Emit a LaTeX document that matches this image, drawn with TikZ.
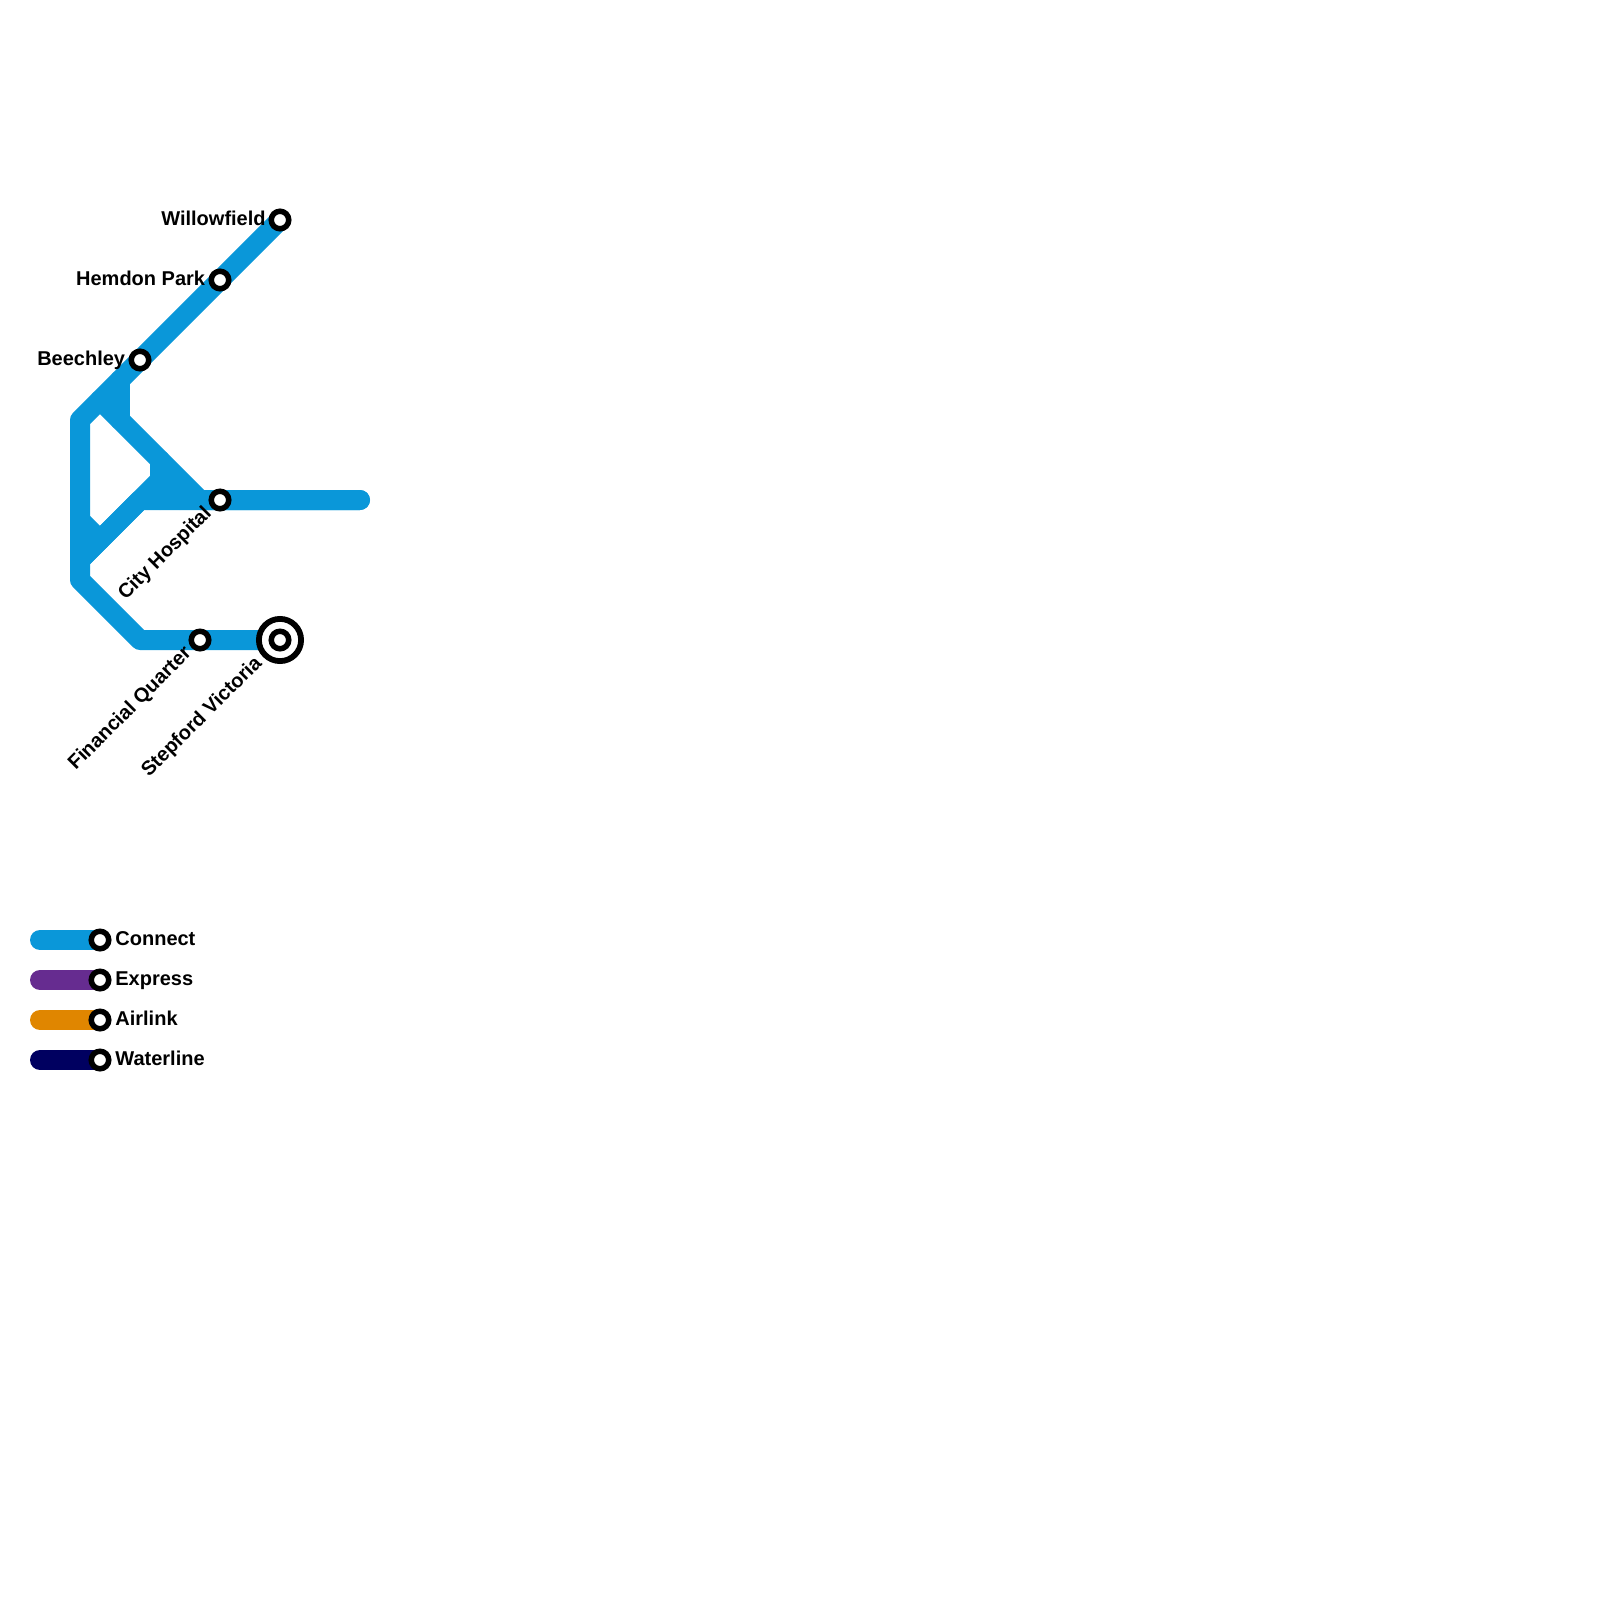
\documentclass[tikz,border=0pt]{standalone}
\usepackage{fontspec}
\setmainfont{Liberation Sans}
\definecolor{connect}{HTML}{0A97D9}
\definecolor{express}{HTML}{662C90}
\definecolor{airlink}{HTML}{E08600}
\definecolor{waterline}{HTML}{000060}
\tikzset{
  route/.style={line width=10pt,line cap=round,line join=round},
  stn/.style={circle,draw=black,fill=white,line width=2.75pt,minimum size=8.75pt,inner sep=0pt},
  bigstn/.style={circle,draw=black,fill=white,line width=2.9pt,minimum size=21.1pt,inner sep=0pt},
  lab/.style={font=\fontsize{10}{12}\selectfont\bfseries,inner sep=0pt,text=black},
  ll/.style={lab,anchor=base east},
  dl/.style={lab,anchor=base east,rotate=45},
  rl/.style={lab,anchor=base west}
}
\begin{document}
\begin{tikzpicture}[x=0.5pt,y=-0.5pt]
\useasboundingbox (0,0) rectangle (1600,1600);
% junction points
\coordinate (j1) at (80,420);
\coordinate (j2) at (80,580);
\coordinate (j3) at (140,640);
\coordinate (j4) at (80,560);
\coordinate (j5) at (140,500);
\coordinate (j6) at (100,400);
\coordinate (j7) at (200,500);
\coordinate (j8) at (120,380);
\coordinate (j9) at (120,420);
\coordinate (j10) at (160,460);
\coordinate (j11) at (160,500);
\coordinate (j12) at (80,520);
\coordinate (j13) at (100,540);
\coordinate (j14) at (160,480);
\coordinate (j15) at (180,500);
\coordinate (endE) at (360,500);
\coordinate (W) at (280,220);
\coordinate (S) at (280,640);
% routes
\draw[route,connect] (W) -- (j1) -- (j2) -- (j3) -- (S);
\draw[route,connect] (j4) -- (j5) -- (endE);
\draw[route,connect] (j4) -- (j14) -- (j10);
\draw[route,connect] (j6) -- (j7) -- (endE);
\draw[route,connect] (j8) -- (j9);
\draw[route,connect] (j14) -- (j11);
\draw[route,connect] (j12) -- (j13);
\draw[route,connect] (j14) -- (j15);
% stations
\node[stn] (willow) at (W) {};
\node[stn] (hemdon) at (220,280) {};
\node[stn] (beech) at (140,360) {};
\node[stn] (city) at (220,500) {};
\node[stn] (fin) at (200,640) {};
\node[bigstn] (stepo) at (S) {};
\node[stn] (step) at (S) {};
% labels
\node[ll] at (266,225) {Willowfield};
\node[ll] at (205.5,285) {Hemdon Park};
\node[ll] at (125.5,365) {Beechley};
\node[dl] at (212.5,514) {City Hospital};
\node[dl] at (192.5,654) {Financial Quarter};
\node[dl] at (263,664) {Stepford Victoria};
% legend
\foreach \y/\c/\t/\n in {940/connect/Connect/a,980/express/Express/b,1020/airlink/Airlink/c,1060/waterline/Waterline/d}{
  \coordinate (ls\n) at (40,\y);
  \coordinate (le\n) at (100,\y);
  \draw[route,\c] (ls\n) -- (le\n);
  \node[stn] at (le\n) {};
  \node[rl] at (115,\y+5) {\t};
}
\end{tikzpicture}
\end{document}
